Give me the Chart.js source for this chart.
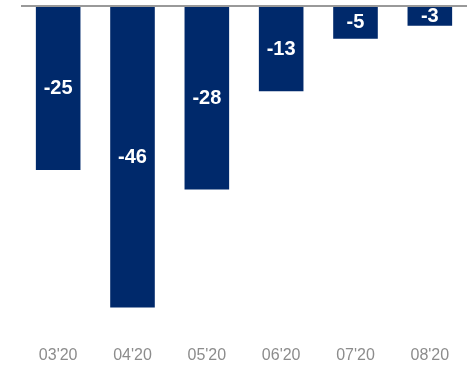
<!DOCTYPE html>
<html>
<head>
<meta charset="utf-8">
<script src="https://cdn.jsdelivr.net/npm/chart.js@4/dist/chart.umd.min.js"></script>
<style>
  html, body { margin: 0; padding: 0; background: #ffffff; }
  #wrap { width: 467px; height: 365px; }
</style>
</head>
<body>
<div id="wrap"><canvas id="c"></canvas></div>
<script>
// Monthly change, in points
const months = ["03'20", "04'20", "05'20", "06'20", "07'20", "08'20"];
const changes = [-25, -46, -28, -13, -5, -3];

// Value labels centred inside each bar
const barValueLabels = {
  id: 'barValueLabels',
  afterDatasetsDraw(chart) {
    const ctx = chart.ctx;
    const meta = chart.getDatasetMeta(0);
    ctx.save();
    ctx.fillStyle = '#ffffff';
    ctx.font = 'bold 20px "Liberation Sans", Arial, sans-serif';
    ctx.textAlign = 'center';
    ctx.textBaseline = 'middle';
    meta.data.forEach((bar, i) => {
      const y = (bar.y + bar.base) / 2;
      ctx.fillText(String(changes[i]), bar.x, y);
    });
    ctx.restore();
  }
};

new Chart(document.getElementById('c'), {
  type: 'bar',
  data: {
    labels: months,
    datasets: [{
      data: changes,
      backgroundColor: '#00296b',
      borderWidth: 0,
      barPercentage: 0.6,
      categoryPercentage: 1.0
    }]
  },
  options: {
    responsive: true,
    maintainAspectRatio: false,
    animation: false,
    layout: { padding: { left: 21, right: 0, top: 6, bottom: -12 } },
    plugins: {
      legend: { display: false },
      tooltip: { enabled: false }
    },
    scales: {
      x: {
        grid: { display: false, drawTicks: false },
        border: { display: false },
        ticks: {
          color: '#8c8c8c',
          font: { family: '"Liberation Sans", Arial, sans-serif', size: 16 },
          padding: 12,
          maxRotation: 0
        }
      },
      y: {
        min: -50,
        max: 0,
        grid: {
          drawTicks: false,
          color: (c) => c.tick && c.tick.value === 0 ? '#999999' : 'rgba(0,0,0,0)',
          lineWidth: 2
        },
        border: { display: false },
        ticks: { display: false, stepSize: 10 }
      }
    }
  },
  plugins: [barValueLabels]
});
</script>
</body>
</html>
